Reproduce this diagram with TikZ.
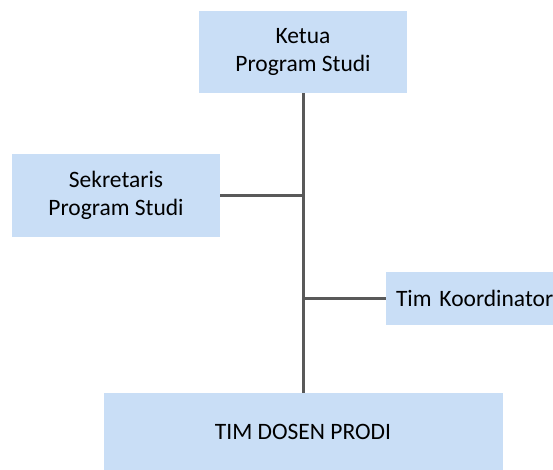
\documentclass[tikz,border=0pt]{standalone}
\usepackage{fontspec}
\setmainfont{Carlito}
\usetikzlibrary{positioning}
\definecolor{boxblue}{HTML}{C9DEF6}
\definecolor{linegray}{HTML}{595959}

\begin{document}
\begin{tikzpicture}[
			x=1pt, y=1pt,
			font=\fontsize{23.5}{27.5}\selectfont,
			box/.style={fill=boxblue, inner sep=0pt, align=center},
			link/.style={draw=linegray, line width=3pt}
			]

			\clip (0,0) rectangle (553,470);
			\fill[white] (0,0) rectangle (553,470);

			\node[box, minimum width=208pt, minimum height=82pt] (ketua) at (303,418) {Ketua\\Program Studi};
			\node[box, minimum width=208pt, minimum height=83pt] (sekretaris) at (116,274.5) {Sekretaris\\Program Studi};
			\node[box, minimum width=180pt, minimum height=53pt, text width=160pt, align=left] (koordinator) at (476,171.5) {Tim Koordinator};
			\node[box, minimum width=399pt, minimum height=77pt] (dosen) at (303,38.5) {TIM DOSEN PRODI};

			% garis utama
			\draw[link] (ketua) -- (dosen);
			\foreach \b in {sekretaris, koordinator} {
				\draw[link] (\b) -- (\b -| ketua);
			}

		\end{tikzpicture}
\end{document}
